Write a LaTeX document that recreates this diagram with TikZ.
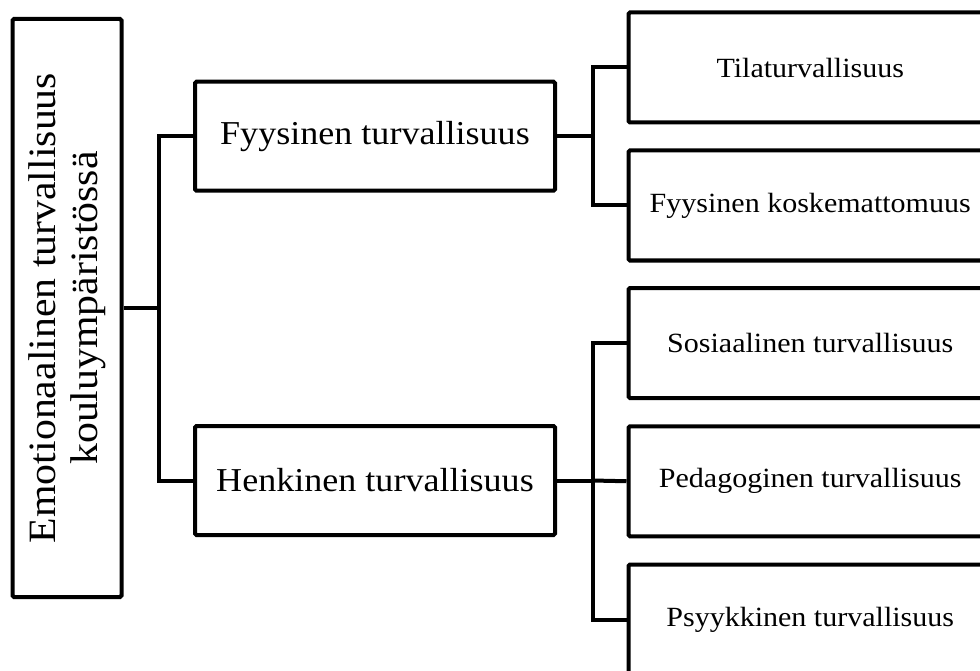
\documentclass[tikz,border=0pt]{standalone}
\usepackage{fontspec}
\setmainfont{Liberation Serif}[FakeStretch=1.08]
\tikzset{
  box/.style={draw, line width=4pt, rounded corners=1.5pt, inner sep=0pt,
    align=center, fill=white},
  rootbox/.style={box, rotate=90, minimum width=578pt, minimum height=109pt,
    font=\fontsize{38.7}{42}\selectfont},
  midbox/.style={box, minimum width=360pt, minimum height=109pt,
    font=\fontsize{33.4}{38}\selectfont},
  leafbox/.style={box, minimum width=363.5pt, minimum height=110pt,
    font=\fontsize{27.8}{32}\selectfont},
  wire/.style={line width=4pt, line join=miter}
}
\begin{document}
\begin{tikzpicture}[x=1pt, y=-1pt]
  \useasboundingbox (0,0) rectangle (980,671);
  \clip (0,0) rectangle (980,671);

  % root of the tree
  \node[rootbox] (root) at (67,308)
    {Emotionaalinen turvallisuus\\kouluympäristössä};

  % second level
  \node[midbox] (fyys) at (375,136.25) {Fyysinen turvallisuus};
  \node[midbox] (henk) at (375,480.5) {Henkinen turvallisuus};

  % leaves (they run past the right edge)
  \node[leafbox] (tila) at (810.25,67.5)  {Tilaturvallisuus};
  \node[leafbox] (kosk) at (810.25,205.5) {Fyysinen koskemattomuus};
  \node[leafbox] (sosi) at (810.25,343)   {Sosiaalinen turvallisuus};
  \node[leafbox] (peda) at (810.25,481.25){Pedagoginen turvallisuus};
  \node[leafbox] (psyy) at (810.25,619.5) {Psyykkinen turvallisuus};

  % junction points of the brackets
  \coordinate (j1) at (159,308);
  \coordinate (j2) at (592.5,136.25);
  \coordinate (j3) at (592.5,480.5);

  % connectors
  \draw[wire] (root.south) -- (j1);
  \draw[wire] (fyys.west) -| (j1) |- (henk.west);
  \draw[wire] (fyys.east) -- (j2);
  \draw[wire] (tila.west) -| (j2) |- (kosk.west);
  \draw[wire] (henk.east) -- (j3);
  \draw[wire] (sosi.west) -| (j3) |- (psyy.west);
  \draw[wire] (j3) -- (peda.west);
\end{tikzpicture}
\end{document}
